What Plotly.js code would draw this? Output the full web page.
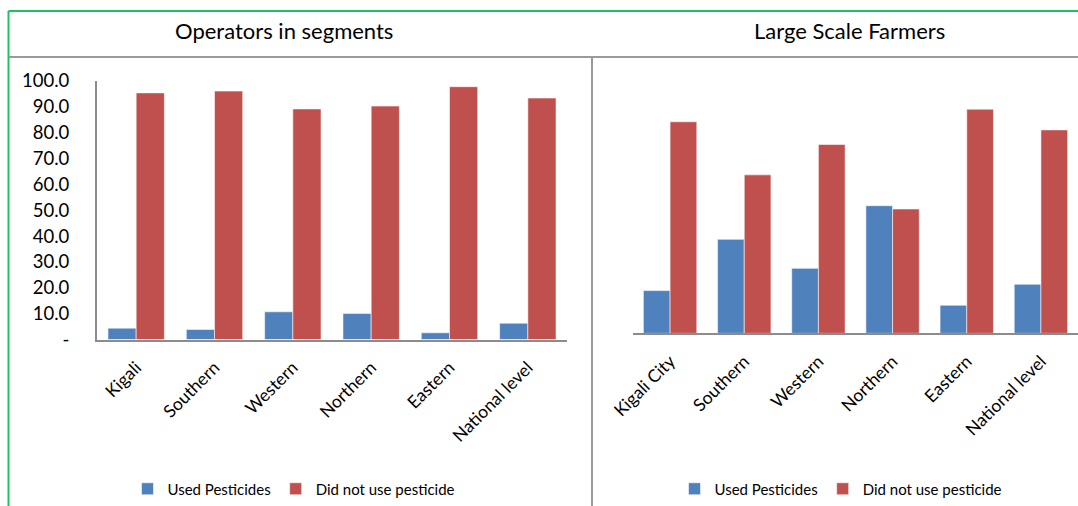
<!DOCTYPE html>
<html>
<head>
<meta charset="utf-8">
<script src="https://cdn.plot.ly/plotly-3.0.1.min.js"></script>
<style>
html,body{margin:0;padding:0;background:#fff;}
#chart{width:1078px;height:506px;}
</style>
</head>
<body>
<div id="chart"></div>
<script>
// Data
const leftTitle = "Operators in segments";
const rightTitle = "Large Scale Farmers";
const leftCategories = ["Kigali", "Southern", "Western", "Northern", "Eastern", "National level"];
const rightCategories = ["Kigali City", "Southern", "Western", "Northern", "Eastern", "National level"];
const seriesNames = ["Used Pesticides", "Did not use pesticide"];
const leftUsed = [4.4, 3.9, 10.7, 10.1, 2.6, 6.3];
const leftNotUsed = [95.4, 96.1, 89.2, 90.3, 97.8, 93.4];
const rightUsed = [16.9, 37.2, 25.7, 50.5, 11.1, 19.4];
const rightNotUsed = [83.7, 62.7, 74.7, 49.2, 88.7, 80.5];
const yTickVals = [0, 10, 20, 30, 40, 50, 60, 70, 80, 90, 100];
const yTickText = ["-", "10.0", "20.0", "30.0", "40.0", "50.0", "60.0", "70.0", "80.0", "90.0", "100.0"];

const BLUE = "#4F81BD", RED = "#C0504D";
const FONT = "Lato, 'Open Sans', sans-serif";
const barLine = {color: "rgba(255,255,255,0.55)", width: 1};

const traces = [
  {type: "bar", name: seriesNames[0], x: leftCategories, y: leftUsed, marker: {color: BLUE, line: barLine}, xaxis: "x", yaxis: "y", legend: "legend"},
  {type: "bar", name: seriesNames[1], x: leftCategories, y: leftNotUsed, marker: {color: RED, line: barLine}, xaxis: "x", yaxis: "y", legend: "legend"},
  {type: "bar", name: seriesNames[0], x: rightCategories, y: rightUsed, marker: {color: BLUE, line: barLine}, xaxis: "x2", yaxis: "y2", legend: "legend2"},
  {type: "bar", name: seriesNames[1], x: rightCategories, y: rightNotUsed, marker: {color: RED, line: barLine}, xaxis: "x2", yaxis: "y2", legend: "legend2"}
];

const W = 1078, H = 506;
const px = v => v / W;
const py = v => 1 - v / H;

const xTickFont = {family: FONT, size: 17.5, color: "#000"};

const layout = {
  width: W, height: H,
  margin: {l: 0, r: 0, t: 0, b: 0},
  paper_bgcolor: "#fff",
  plot_bgcolor: "rgba(0,0,0,0)",
  font: {family: FONT, color: "#000"},
  barmode: "group",
  bargap: 0.28,
  bargroupgap: 0,
  showlegend: true,
  xaxis: {
    domain: [px(97), px(567)],
    anchor: "y",
    type: "category",
    showline: true, linecolor: "#8c8c8c", linewidth: 2,
    showgrid: false, zeroline: false,
    ticks: "", tickangle: -45,
    ticklabelstandoff: 9,
    tickfont: xTickFont,
    fixedrange: true
  },
  yaxis: {
    domain: [py(339.5), py(81)],
    anchor: "x",
    range: [0, 100],
    showline: true, linecolor: "#8c8c8c", linewidth: 2,
    showgrid: false, zeroline: false,
    tickmode: "array", tickvals: yTickVals, ticktext: yTickText,
    ticks: "", ticklabelstandoff: 22,
    tickfont: {family: FONT, size: 18.5, color: "#000"},
    fixedrange: true
  },
  xaxis2: {
    domain: [px(633), 1],
    anchor: "y2",
    type: "category",
    showline: true, linecolor: "#8c8c8c", linewidth: 2,
    showgrid: false, zeroline: false,
    ticks: "", tickangle: -45,
    ticklabelstandoff: 9,
    tickfont: xTickFont,
    fixedrange: true
  },
  yaxis2: {
    domain: [py(333.3), py(80.6)],
    anchor: "x2",
    range: [0, 100],
    visible: false,
    fixedrange: true
  },
  legend: {
    orientation: "h",
    x: px(294), xanchor: "center",
    y: py(489), yanchor: "middle",
    font: {family: FONT, size: 15, color: "#000"},
    bgcolor: "rgba(0,0,0,0)",
    itemclick: false, itemdoubleclick: false
  },
  legend2: {
    orientation: "h",
    x: px(841), xanchor: "center",
    y: py(489), yanchor: "middle",
    font: {family: FONT, size: 15, color: "#000"},
    bgcolor: "rgba(0,0,0,0)",
    itemclick: false, itemdoubleclick: false
  },
  annotations: [
    {text: leftTitle, xref: "paper", yref: "paper", x: px(284), y: py(31), xanchor: "center", yanchor: "middle", showarrow: false, font: {family: FONT, size: 22, color: "#000"}},
    {text: rightTitle, xref: "paper", yref: "paper", x: px(849), y: py(31), xanchor: "center", yanchor: "middle", showarrow: false, font: {family: FONT, size: 22, color: "#000"}}
  ],
  shapes: [
    // green outer frame
    {type: "line", xref: "paper", yref: "paper", x0: px(8.5), x1: 1, y0: py(11), y1: py(11), line: {color: "#1FC15A", width: 2}},
    {type: "line", xref: "paper", yref: "paper", x0: px(8.5), x1: px(8.5), y0: py(11), y1: 0, line: {color: "#1FC15A", width: 2}},
    // gray separators
    {type: "line", xref: "paper", yref: "paper", x0: px(9), x1: 1, y0: py(57), y1: py(57), line: {color: "#9a9a9a", width: 2}},
    {type: "line", xref: "paper", yref: "paper", x0: px(592), x1: px(592), y0: py(57), y1: 0, line: {color: "#9a9a9a", width: 2}}
  ]
};

Plotly.newPlot("chart", traces, layout, {displayModeBar: false, staticPlot: true});
</script>
</body>
</html>
